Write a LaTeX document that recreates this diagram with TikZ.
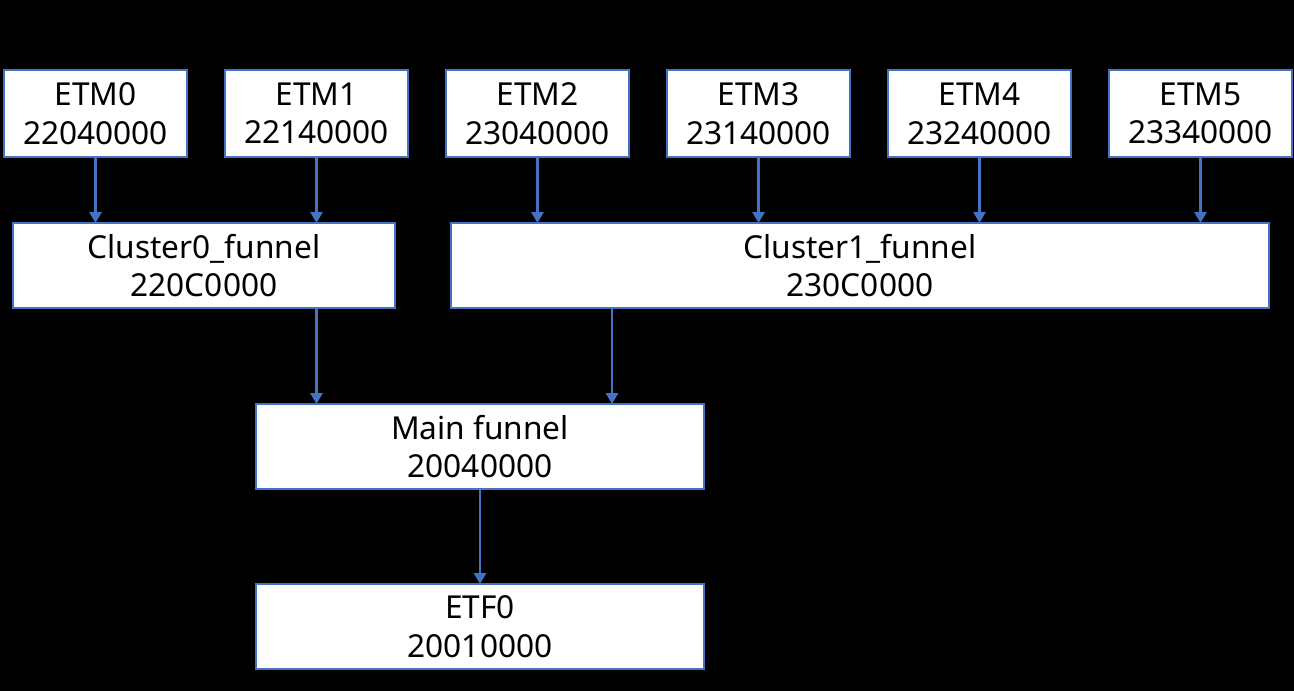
\documentclass[tikz,border=0pt]{standalone}
\usepackage{fontspec}
\setmainfont{Noto Sans}
\usepackage{tikz}
\usetikzlibrary{arrows.meta,positioning,calc}
\definecolor{fnblue}{HTML}{4472C4}
\definecolor{fnbg}{HTML}{000000}
\tikzset{
  etm/.style={draw=fnblue,fill=white,line width=1.4pt,align=center,
              minimum width=3.66cm,minimum height=1.74cm,inner sep=0pt,outer sep=0pt,
              font=\fontsize{18}{22}\selectfont},
  fun/.style={draw=fnblue,fill=white,line width=1.4pt,align=center,
              minimum height=1.7cm,inner sep=0pt,outer sep=0pt,
              font=\fontsize{18}{22}\selectfont},
  ar/.style={-{Triangle[length=2.2mm,width=2.4mm]},line width=1.5pt,fnblue},
}
\begin{document}
\begin{tikzpicture}[node distance=1.32cm and 0.76cm]
    \useasboundingbox (0,0) rectangle (25.88,-13.82);
    \fill[fnbg] (0,0) rectangle (25.88,-13.82);
    \node[etm] (etm0) at (1.91,-2.27) {ETM0\\22040000};
    \node[etm,right=of etm0] (etm1) {ETM1\\22140000};
    \node[etm,right=of etm1] (etm2) {ETM2\\23040000};
    \node[etm,right=of etm2] (etm3) {ETM3\\23140000};
    \node[etm,right=of etm3] (etm4) {ETM4\\23240000};
    \node[etm,right=of etm4] (etm5) {ETM5\\23340000};
    \node[fun,minimum width=7.64cm,below right=1.32cm and 0.18cm of etm0.south west,anchor=north west] (cl0) {Cluster0\_funnel\\220C0000};
    \node[fun,minimum width=16.36cm,below right=1.32cm and 0.1cm of etm2.south west,anchor=north west] (cl1) {Cluster1\_funnel\\230C0000};
    \node[fun,minimum width=8.96cm,below right=1.92cm and 4.86cm of cl0.south west,anchor=north west] (main) {Main funnel\\20040000};
    \node[fun,minimum width=8.96cm,below=1.9cm of main] (etf) {ETF0\\20010000};
    \coordinate (c1out) at ([xshift=3.22cm]cl1.south west);
    \foreach \i in {0,1} \draw[ar] (etm\i) -- (etm\i |- cl0.north);
    \foreach \i in {2,...,5} \draw[ar] (etm\i) -- (etm\i |- cl1.north);
    \draw[ar] (etm1 |- cl0.south) -- (etm1 |- main.north);
    \draw[ar] (c1out) -- (c1out |- main.north);
    \draw[ar] (main) -- (etf);
\end{tikzpicture}
\end{document}
